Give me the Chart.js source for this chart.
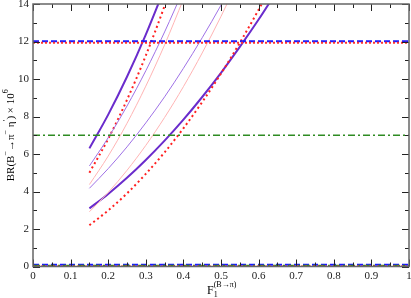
<!DOCTYPE html>
<html>
<head>
<meta charset="utf-8">
<script src="https://cdn.jsdelivr.net/npm/chart.js@4.4.1/dist/chart.umd.min.js"></script>
<style>
  html, body { margin: 0; padding: 0; background: #fff; }
  #wrap { width: 411px; height: 298px; }
</style>
</head>
<body>
<div id="wrap"><canvas id="myChart" width="411" height="298"></canvas></div>
<script>
// valores de F1 (eje x) donde se leyeron las curvas
const fGrid = [0.15, 0.2, 0.25, 0.3, 0.35, 0.4, 0.45, 0.5, 0.55, 0.6, 0.65];

// BR x 10^6
const brGruesoSup = [6.30, 8.10, 10.12, 12.37, 14.84];
const brGruesoInf = [3.10, 3.87, 4.73, 5.68, 6.71, 7.83, 9.04, 10.33, 11.71, 13.17, 14.72];
const brRojoSup = [5.00, 6.81, 8.89, 11.25, 13.90, 16.80];
const brRojoInf = [2.20, 2.99, 3.90, 4.94, 6.09, 7.37, 8.77, 10.29, 11.93, 13.69, 15.55];
const brFinoSup = [5.36, 6.87, 8.56, 10.44, 12.51, 14.76];
const brFinoInf = [4.17, 5.22, 6.38, 7.66, 9.05, 10.57, 12.20, 13.94, 15.80];
const brRosaSup = [4.37, 5.89, 7.64, 9.62, 11.82, 14.25];
const brRosaInf = [2.92, 3.95, 5.13, 6.46, 7.95, 9.59, 11.39, 13.34, 15.44];

// lineas horizontales (valores experimentales)
const limiteX = [0, 1];
const expAzul = 12.02;
const expRojo = 11.93;
const expVerde = 7.0;
const bajoAzul = 0.1;
const bajoVerde = 0.04;
const bajoRojo = 0.0;

const xTicks = [0, 0.1, 0.2, 0.3, 0.4, 0.5, 0.6, 0.7, 0.8, 0.9, 1];
const yTicks = [0, 2, 4, 6, 8, 10, 12, 14];

const serif = 'Liberation Serif';

function curva(ys) {
  return ys.map((y, i) => ({ x: fGrid[i], y: y }));
}
function horizontal(v) {
  return limiteX.map(x => ({ x: x, y: v }));
}

function serie(data, color, width, dash) {
  return {
    data: data,
    borderColor: color,
    borderWidth: width,
    borderDash: dash || [],
    pointRadius: 0,
    fill: false,
    cubicInterpolationMode: 'monotone'
  };
}

// marco, marcas y titulos de los ejes
const marcoPlugin = {
  id: 'marco',
  afterDatasetsDraw(chart) {
    const ctx = chart.ctx;
    const a = chart.chartArea;
    const sx = chart.scales.x;
    const sy = chart.scales.y;
    ctx.save();
    ctx.strokeStyle = '#222';
    ctx.lineWidth = 1;
    ctx.beginPath();
    for (let i = 0; i <= 20; i++) {
      const px = Math.round(sx.getPixelForValue(i * 0.05)) + 0.5;
      const len = i % 2 === 0 ? 7 : 4;
      ctx.moveTo(px, a.bottom); ctx.lineTo(px, a.bottom - len);
      ctx.moveTo(px, a.top); ctx.lineTo(px, a.top + len);
    }
    for (let v = 0; v <= 14; v++) {
      const py = Math.round(sy.getPixelForValue(v)) + 0.5;
      const len = v % 2 === 0 ? 7 : 4;
      ctx.moveTo(a.left, py); ctx.lineTo(a.left + len, py);
      ctx.moveTo(a.right, py); ctx.lineTo(a.right - len, py);
    }
    ctx.stroke();
    ctx.strokeStyle = '#666';
    ctx.lineWidth = 1.5;
    ctx.strokeRect(a.left, a.top, a.right - a.left, a.bottom - a.top);
    ctx.restore();

    // titulo eje y
    ctx.save();
    ctx.fillStyle = '#000';
    ctx.translate(11, (a.top + a.bottom) / 2);
    ctx.rotate(-Math.PI / 2);
    const partesY = [
      ['BR(B', 11, 0], ['\u2212', 8, -5], ['\u2192\u03c0', 11, 0], ['\u2212', 8, -5],
      [' \u03b7', 11, 0], ['\u2032', 9, -4], [') \u00d7 10', 11, 0], ['6', 8, -5]
    ];
    dibujarPartes(ctx, partesY);
    ctx.restore();

    // titulo eje x: F, subindice 1, superindice (B->pi)
    ctx.save();
    ctx.fillStyle = '#000';
    ctx.textAlign = 'left';
    ctx.textBaseline = 'alphabetic';
    ctx.font = '12px "' + serif + '"';
    ctx.fillText('F', 207, 294);
    const wF = ctx.measureText('F').width;
    ctx.font = '8px "' + serif + '"';
    ctx.fillText('1', 207 + wF, 297);
    ctx.fillText('(B\u2192\u03c0)', 207 + wF, 287);
    ctx.restore();
  }
};

function medir(ctx, partes) {
  let w = 0;
  partes.forEach(p => {
    ctx.font = p[1] + 'px "' + serif + '"';
    w += ctx.measureText(p[0]).width;
  });
  return w;
}

function dibujarPartes(ctx, partes) {
  const total = medir(ctx, partes);
  let x = -total / 2;
  ctx.textBaseline = 'middle';
  ctx.textAlign = 'left';
  partes.forEach(p => {
    ctx.font = p[1] + 'px "' + serif + '"';
    ctx.fillText(p[0], x, p[2]);
    x += ctx.measureText(p[0]).width;
  });
}

const ctx = document.getElementById('myChart').getContext('2d');
const chartInstance = new Chart(ctx, {
  type: 'line',
  data: {
    datasets: [
      serie(horizontal(expRojo), '#ff3030', 2, [2, 2]),
      serie(horizontal(expAzul), '#1a1aff', 2, [6, 3]),
      serie(horizontal(expVerde), '#2e8b22', 1.5, [7, 3, 2, 3]),
      serie(horizontal(bajoRojo), '#ff3030', 2, [2, 2]),
      serie(horizontal(bajoVerde), '#2e8b22', 2, [7, 3, 2, 3]),
      serie(horizontal(bajoAzul), '#1a1aff', 2, [6, 3]),
      serie(curva(brRosaSup), '#ffb4b4', 1),
      serie(curva(brRosaInf), '#ffb4b4', 1),
      serie(curva(brFinoSup), '#9f72e6', 1),
      serie(curva(brFinoInf), '#9f72e6', 1),
      serie(curva(brRojoSup), '#ff2020', 2, [2, 3]),
      serie(curva(brRojoInf), '#ff2020', 2, [2, 3]),
      serie(curva(brGruesoSup), '#6a2ccc', 2),
      serie(curva(brGruesoInf), '#6a2ccc', 2)
    ]
  },
  options: {
    responsive: false,
    animation: false,
    layout: { padding: { top: 4, right: 2, left: 0, bottom: 0 } },
    plugins: { legend: { display: false }, tooltip: { enabled: false } },
    scales: {
      x: {
        type: 'linear',
        min: 0,
        max: 1,
        afterBuildTicks: s => { s.ticks = xTicks.map(v => ({ value: v })); },
        afterFit: s => { s.height = 31.5; s.paddingLeft = 0; s.paddingRight = 0; },
        ticks: {
          font: { family: serif, size: 11 }, color: '#222', padding: 3, maxRotation: 0,
          callback: v => String(Math.round(v * 10) / 10)
        },
        grid: { display: false, drawTicks: false },
        border: { display: false }
      },
      y: {
        min: 0,
        max: 14,
        afterBuildTicks: s => { s.ticks = yTicks.map(v => ({ value: v })); },
        afterFit: s => { s.width = 33; s.paddingTop = 0; s.paddingBottom = 0; },
        ticks: { font: { family: serif, size: 11 }, color: '#222', padding: 4 },
        grid: { display: false, drawTicks: false },
        border: { display: false }
      }
    }
  },
  plugins: [marcoPlugin]
});
</script>
</body>
</html>
